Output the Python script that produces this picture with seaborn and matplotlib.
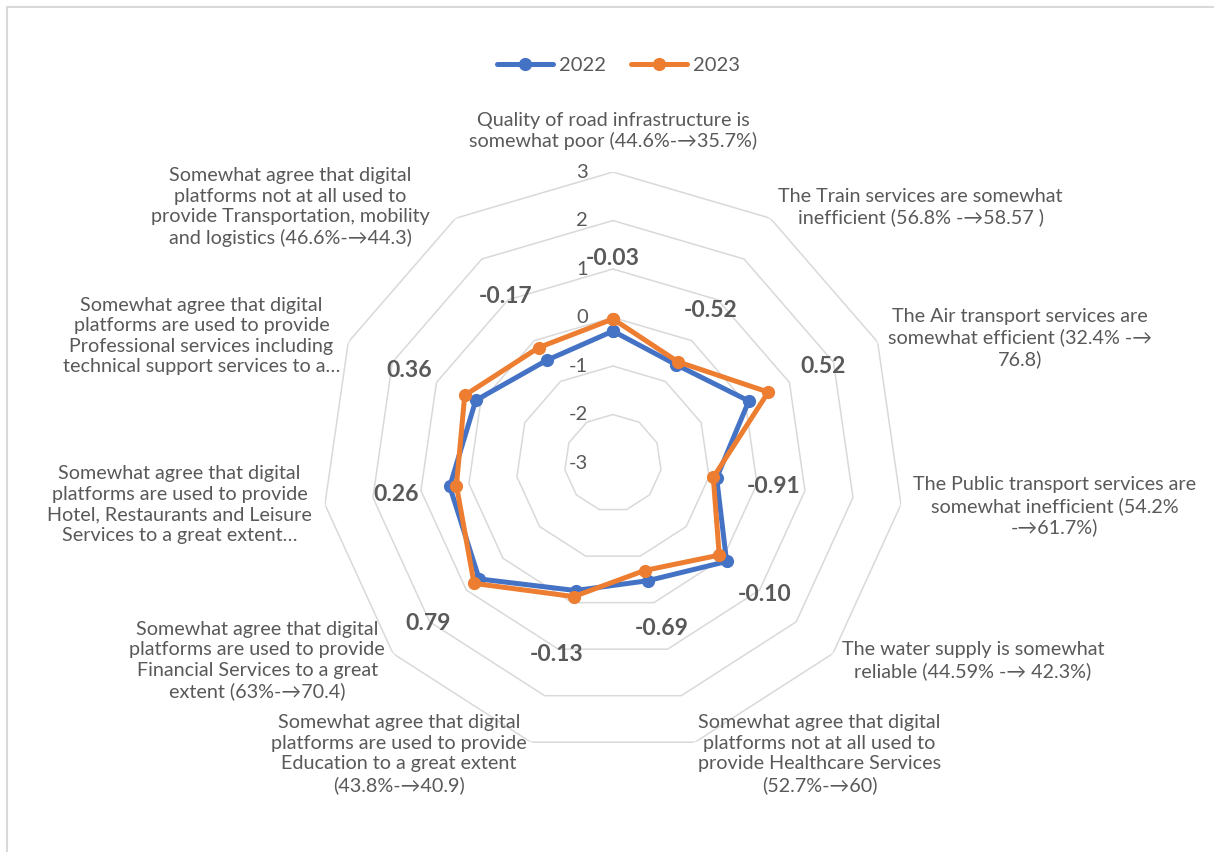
import numpy as np
import pandas as pd
import matplotlib
matplotlib.use("Agg")
import matplotlib.pyplot as plt
import seaborn as sns
from matplotlib.lines import Line2D
from matplotlib.patches import Rectangle

# Radar axes, clockwise from the top
categories = [
    "Quality of road infrastructure is\nsomewhat poor (44.6%-→35.7%)",
    "The Train services are somewhat\ninefficient (56.8% -→58.57 )",
    "The Air transport services are\nsomewhat efficient (32.4% -→\n76.8)",
    "The Public transport services are\nsomewhat inefficient (54.2%\n-→61.7%)",
    "The water supply is somewhat\nreliable (44.59% -→ 42.3%)",
    "Somewhat agree that digital\nplatforms not at all used to\nprovide Healthcare Services\n(52.7%-→60)",
    "Somewhat agree that digital\nplatforms are used to provide\nEducation to a great extent\n(43.8%-→40.9)",
    "Somewhat agree that digital\nplatforms are used to provide\nFinancial Services to a great\nextent (63%-→70.4)",
    "Somewhat agree that digital\nplatforms are used to provide\nHotel, Restaurants and Leisure\nServices to a great extent…",
    "Somewhat agree that digital\nplatforms are used to provide\nProfessional services including\ntechnical support services to a…",
    "Somewhat agree that digital\nplatforms not at all used to\nprovide Transportation, mobility\nand logistics (46.6%-→44.3)",
]
values_2022 = [-0.28, -0.59, 0.08, -0.84, 0.10, -0.47, -0.26, 0.65, 0.40, 0.11, -0.48]
values_2023 = [-0.03, -0.52, 0.52, -0.91, -0.10, -0.69, -0.13, 0.79, 0.26, 0.36, -0.17]
series_names = ["2022", "2023"]
r_ticks = [-3, -2, -1, 0, 1, 2, 3]

BLUE = "#4472C4"
ORANGE = "#ED7D31"
GRID = "#D9D9D9"
TEXT = "#595959"

sns.set_theme(style="white")
plt.rcParams["font.family"] = ["Lato", "DejaVu Sans"]

fig = plt.figure(figsize=(12.14, 8.52), dpi=100)
fig.patch.set_facecolor("white")
fig.add_artist(Rectangle((7 / 1214, -0.05), 1.2, 1.05 - 7 / 852,
                         transform=fig.transFigure, fill=False,
                         edgecolor=GRID, lw=1.5))

ax = fig.add_axes([0.2652, 0.115, 0.4794, 0.6831], projection="polar")
ax.set_theta_zero_location("N")
ax.set_theta_direction(-1)
ax.set_ylim(r_ticks[0], r_ticks[-1])
ax.grid(False)
ax.spines["polar"].set_visible(False)
ax.patch.set_alpha(0)

n = len(categories)
theta = np.linspace(0, 2 * np.pi, n, endpoint=False)
theta_closed = np.append(theta, theta[0])

# Polygonal grid rings (no radial spokes)
for r in r_ticks[1:]:
    ax.plot(theta_closed, [r] * (n + 1), color=GRID, lw=1.1, zorder=1)

# Radial tick labels along the top axis
for r in r_ticks:
    ax.annotate(str(r), xy=(0, r), xytext=(-25, 0), textcoords="offset pixels",
                ha="right", va="center", fontsize=14.5, color=TEXT,
                annotation_clip=False, zorder=2)

# Data series
df = pd.DataFrame({
    "theta": np.concatenate([theta_closed, theta_closed]),
    "value": values_2022 + values_2022[:1] + values_2023 + values_2023[:1],
    "year": [series_names[0]] * (n + 1) + [series_names[1]] * (n + 1),
})
for name, color, z in [(series_names[0], BLUE, 3), (series_names[1], ORANGE, 4)]:
    sub = df[df["year"] == name]
    sns.lineplot(data=sub, x="theta", y="value", sort=False, estimator=None,
                 color=color, lw=3.6, marker="o", markersize=9.5,
                 markeredgewidth=0, ax=ax, legend=False, zorder=z)
ax.set_xlabel("")
ax.set_ylabel("")
ax.set_ylim(r_ticks[0], r_ticks[-1])
ax.set_xticks([])
ax.set_yticks([])
ax.grid(False)

# Value labels for 2023
for t, v in zip(theta, values_2023):
    ax.text(t, v + 1.25, f"{v:.2f}", ha="center", va="center", fontsize=16.5,
            fontweight="bold", color=TEXT, zorder=5)

# Category labels around the outer ring (ha, dx px, dy px downwards)
label_layout = [
    ("center", 0, -41),
    ("left", 8, -11),
    ("left", 10, -4),
    ("left", 12, 2),
    ("left", 9, 7),
    ("left", 3, 12),
    ("right", -4, 12),
    ("right", -8, 7),
    ("right", -13, 0),
    ("right", -8, -6),
    ("right", -26, -11),
]
for t, cat, (ha, dx, dy) in zip(theta, categories, label_layout):
    ax.annotate(cat, xy=(t, r_ticks[-1]), xytext=(dx, -dy),
                textcoords="offset pixels", ha=ha, va="center",
                multialignment="center", fontsize=14.2, color=TEXT,
                linespacing=1.25, annotation_clip=False)

handles = [Line2D([], [], color=BLUE, lw=3.6, marker="o", markersize=9.5, markeredgewidth=0),
           Line2D([], [], color=ORANGE, lw=3.6, marker="o", markersize=9.5, markeredgewidth=0)]
fig.legend(handles, series_names, loc="center", bbox_to_anchor=(0.5095, 0.9237),
           ncol=2, frameon=False, handlelength=2.8, handletextpad=0.3,
           columnspacing=1.2, fontsize=14.5, labelcolor=TEXT)

fig.savefig("out.png", dpi=100, facecolor="white")
